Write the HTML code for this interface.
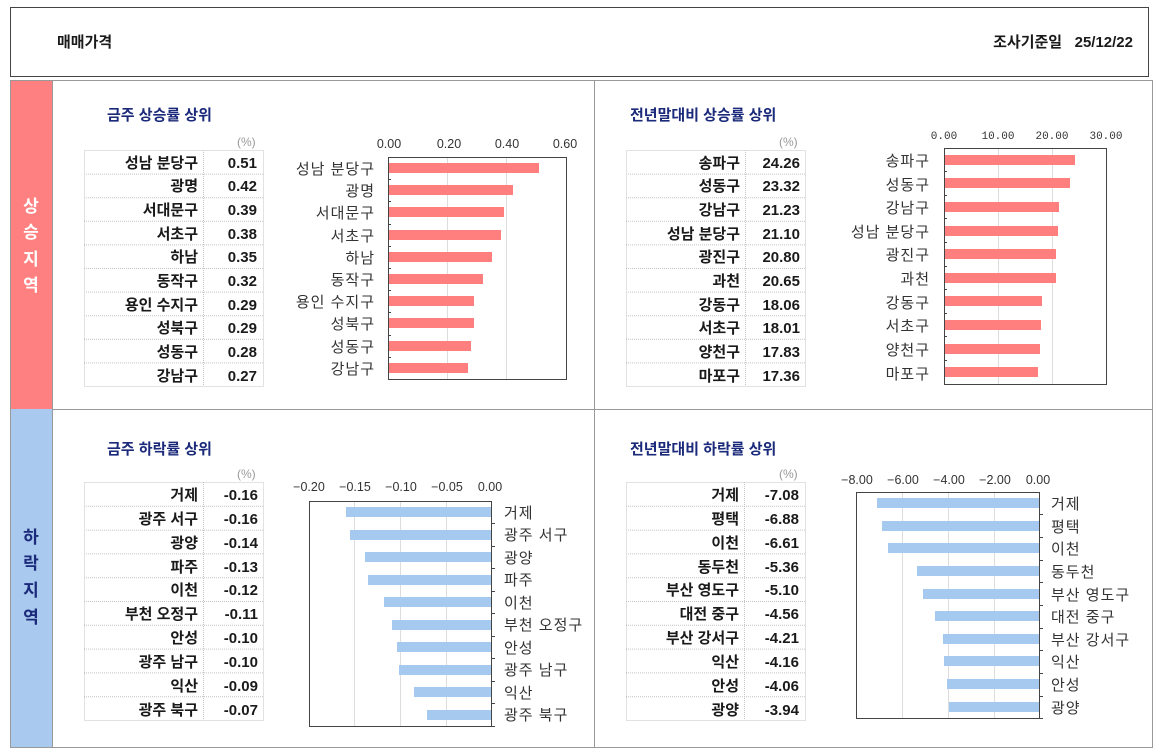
<!DOCTYPE html>
<html><head><meta charset="utf-8"><style>
html,body{margin:0;padding:0;background:#fff;}
svg{display:block;font-family:"Liberation Sans","Noto Sans CJK KR",sans-serif;}
.t{font-size:15px;font-weight:bold;fill:#1a1a1a;}
.h{font-size:15px;font-weight:bold;fill:#1b2a7a;}
.c{font-size:15px;fill:#333;letter-spacing:1px;}
.k{font-size:12.5px;fill:#333;}
.p{font-size:12px;fill:#999;}
.tb{stroke:#c4c4c4;stroke-dasharray:1 1;fill:none;stroke-width:1;}
</style></head><body>
<svg width="1165" height="756" viewBox="0 0 1165 756">
<rect x="10.5" y="7.5" width="1138" height="69" fill="#fff" stroke="#444"/>
<text x="57" y="47" class="t">매매가격</text>
<text x="1133" y="47" class="t" text-anchor="end">조사기준일 &#160;&#160;25/12/22</text>

<rect x="10" y="80" width="42" height="329" fill="#ff8080"/>
<rect x="10" y="409" width="42" height="339" fill="#a9c9ee"/>
<g font-size="17" font-weight="bold" text-anchor="middle">
<text x="31" y="212" fill="#fff">상</text><text x="31" y="238" fill="#fff">승</text><text x="31" y="265" fill="#fff">지</text><text x="31" y="291" fill="#fff">역</text>
<text x="31" y="543" fill="#1b2a7a">하</text><text x="31" y="569" fill="#1b2a7a">락</text><text x="31" y="596" fill="#1b2a7a">지</text><text x="31" y="623" fill="#1b2a7a">역</text>
</g>
<rect x="10.5" y="80.5" width="1142" height="667" fill="none" stroke="#999"/>
<line x1="52.5" y1="80" x2="52.5" y2="748" stroke="#999"/>
<line x1="594.5" y1="80" x2="594.5" y2="748" stroke="#999"/>
<line x1="52" y1="409.5" x2="1152" y2="409.5" stroke="#999"/>

<!-- Panel 1 -->
<text x="107" y="120" class="h">금주 상승률 상위</text>
<text x="237" y="146" class="p">(%)</text>
<g>
<rect x="84.5" y="150.5" width="179" height="236" class="tb"/>
<line x1="203.5" y1="150" x2="203.5" y2="386" class="tb"/>
<path class="tb" d="M84 174.1H263M84 197.7H263M84 221.3H263M84 244.9H263M84 268.5H263M84 292.1H263M84 315.7H263M84 339.3H263M84 362.9H263"/>
<g class="t" text-anchor="end">
<text x="198" y="168">성남 분당구</text><text x="198" y="191">광명</text><text x="198" y="215">서대문구</text><text x="198" y="239">서초구</text><text x="198" y="262">하남</text><text x="198" y="286">동작구</text><text x="198" y="310">용인 수지구</text><text x="198" y="333">성북구</text><text x="198" y="357">성동구</text><text x="198" y="381">강남구</text>
<text x="257" y="168">0.51</text><text x="257" y="191">0.42</text><text x="257" y="215">0.39</text><text x="257" y="239">0.38</text><text x="257" y="262">0.35</text><text x="257" y="286">0.32</text><text x="257" y="310">0.29</text><text x="257" y="333">0.29</text><text x="257" y="357">0.28</text><text x="257" y="381">0.27</text>
</g>
</g>
<g>
<line x1="447.5" y1="157" x2="447.5" y2="379" stroke="#ddd"/><line x1="506.5" y1="157" x2="506.5" y2="379" stroke="#ddd"/>
<g fill="#ff7f7f">
<rect x="388" y="163" width="151" height="10"/><rect x="388" y="185" width="125" height="10"/><rect x="388" y="207" width="116" height="10"/><rect x="388" y="230" width="113" height="10"/><rect x="388" y="252" width="104" height="10"/><rect x="388" y="274" width="95" height="10"/><rect x="388" y="296" width="86" height="10"/><rect x="388" y="318" width="86" height="10"/><rect x="388" y="341" width="83" height="10"/><rect x="388" y="363" width="80" height="10"/>
</g>
<rect x="388.5" y="157.5" width="178" height="222" fill="none" stroke="#444"/>
<path stroke="#444" d="M388 179.5h3M388 201.5h3M388 224.5h3M388 246.5h3M388 268.5h3M388 290.5h3M388 312.5h3M388 335.5h3M388 357.5h3"/>
<g class="k" text-anchor="middle"><text x="389" y="148">0.00</text><text x="449" y="148">0.20</text><text x="507" y="148">0.40</text><text x="565" y="148">0.60</text></g>
<g class="c" text-anchor="end">
<text x="375" y="174">성남 분당구</text><text x="375" y="196">광명</text><text x="375" y="218">서대문구</text><text x="375" y="241">서초구</text><text x="375" y="263">하남</text><text x="375" y="285">동작구</text><text x="375" y="307">용인 수지구</text><text x="375" y="329">성북구</text><text x="375" y="352">성동구</text><text x="375" y="374">강남구</text>
</g>
</g>

<!-- Panel 2 -->
<text x="630" y="120" class="h">전년말대비 상승률 상위</text>
<text x="779" y="146" class="p">(%)</text>
<g>
<rect x="626.5" y="150.5" width="179" height="236" class="tb"/>
<line x1="745.5" y1="150" x2="745.5" y2="386" class="tb"/>
<path class="tb" d="M626 174.1H805M626 197.7H805M626 221.3H805M626 244.9H805M626 268.5H805M626 292.1H805M626 315.7H805M626 339.3H805M626 362.9H805"/>
<g class="t" text-anchor="end">
<text x="740" y="168">송파구</text><text x="740" y="191">성동구</text><text x="740" y="215">강남구</text><text x="740" y="239">성남 분당구</text><text x="740" y="262">광진구</text><text x="740" y="286">과천</text><text x="740" y="310">강동구</text><text x="740" y="333">서초구</text><text x="740" y="357">양천구</text><text x="740" y="381">마포구</text>
<text x="800" y="168">24.26</text><text x="800" y="191">23.32</text><text x="800" y="215">21.23</text><text x="800" y="239">21.10</text><text x="800" y="262">20.80</text><text x="800" y="286">20.65</text><text x="800" y="310">18.06</text><text x="800" y="333">18.01</text><text x="800" y="357">17.83</text><text x="800" y="381">17.36</text>
</g>
</g>
<g>
<line x1="998.5" y1="148" x2="998.5" y2="384" stroke="#ddd"/><line x1="1052.5" y1="148" x2="1052.5" y2="384" stroke="#ddd"/>
<g fill="#ff7f7f">
<rect x="944" y="155" width="131" height="10"/><rect x="944" y="178" width="126" height="10"/><rect x="944" y="202" width="115" height="10"/><rect x="944" y="226" width="114" height="10"/><rect x="944" y="249" width="112" height="10"/><rect x="944" y="273" width="112" height="10"/><rect x="944" y="296" width="98" height="10"/><rect x="944" y="320" width="97" height="10"/><rect x="944" y="344" width="96" height="10"/><rect x="944" y="367" width="94" height="10"/>
</g>
<rect x="944.5" y="148.5" width="162" height="236" fill="none" stroke="#444"/>
<path stroke="#444" d="M944 171.5h3M944 195.5h3M944 218.5h3M944 242.5h3M944 266.5h3M944 289.5h3M944 313.5h3M944 336.5h3M944 360.5h3"/>
<g font-size="11" fill="#333" font-family="Liberation Mono,monospace" text-anchor="middle"><text x="944" y="139">0.00</text><text x="998" y="139">10.00</text><text x="1052" y="139">20.00</text><text x="1106" y="139">30.00</text></g>
<g class="c" text-anchor="end">
<text x="930" y="166">송파구</text><text x="930" y="190">성동구</text><text x="930" y="213">강남구</text><text x="930" y="237">성남 분당구</text><text x="930" y="260">광진구</text><text x="930" y="284">과천</text><text x="930" y="308">강동구</text><text x="930" y="331">서초구</text><text x="930" y="355">양천구</text><text x="930" y="379">마포구</text>
</g>
</g>

<!-- Panel 3 -->
<text x="107" y="454" class="h">금주 하락률 상위</text>
<text x="237" y="478" class="p">(%)</text>
<g>
<rect x="84.5" y="482.5" width="179" height="238" class="tb"/>
<line x1="203.5" y1="482" x2="203.5" y2="720" class="tb"/>
<path class="tb" d="M84 506.3H263M84 530.1H263M84 553.9H263M84 577.7H263M84 601.5H263M84 625.3H263M84 649.1H263M84 672.9H263M84 696.7H263"/>
<g class="t" text-anchor="end">
<text x="198" y="500">거제</text><text x="198" y="524">광주 서구</text><text x="198" y="548">광양</text><text x="198" y="572">파주</text><text x="198" y="595">이천</text><text x="198" y="619">부천 오정구</text><text x="198" y="643">안성</text><text x="198" y="667">광주 남구</text><text x="198" y="691">익산</text><text x="198" y="715">광주 북구</text>
<text x="258" y="500">-0.16</text><text x="258" y="524">-0.16</text><text x="258" y="548">-0.14</text><text x="258" y="572">-0.13</text><text x="258" y="595">-0.12</text><text x="258" y="619">-0.11</text><text x="258" y="643">-0.10</text><text x="258" y="667">-0.10</text><text x="258" y="691">-0.09</text><text x="258" y="715">-0.07</text>
</g>
</g>
<g>
<line x1="354.5" y1="501" x2="354.5" y2="726" stroke="#ddd"/><line x1="400.5" y1="501" x2="400.5" y2="726" stroke="#ddd"/><line x1="446.5" y1="501" x2="446.5" y2="726" stroke="#ddd"/>
<g fill="#a6c9f0">
<rect x="346" y="507" width="146" height="10"/><rect x="350" y="530" width="142" height="10"/><rect x="365" y="552" width="127" height="10"/><rect x="368" y="575" width="124" height="10"/><rect x="384" y="597" width="108" height="10"/><rect x="392" y="620" width="100" height="10"/><rect x="397" y="642" width="95" height="10"/><rect x="399" y="665" width="93" height="10"/><rect x="414" y="687" width="78" height="10"/><rect x="427" y="710" width="65" height="10"/>
</g>
<rect x="309.5" y="501.5" width="182" height="225" fill="none" stroke="#444"/>
<path stroke="#444" d="M491 523.5h4M491 546.5h4M491 568.5h4M491 591.5h4M491 613.5h4M491 636.5h4M491 658.5h4M491 681.5h4M491 703.5h4M491 726.5h4"/>
<g class="k" text-anchor="middle"><text x="309" y="491">−0.20</text><text x="355" y="491">−0.15</text><text x="401" y="491">−0.10</text><text x="447" y="491">−0.05</text><text x="490" y="491">0.00</text></g>
<g class="c">
<text x="504" y="518">거제</text><text x="504" y="540">광주 서구</text><text x="504" y="563">광양</text><text x="504" y="585">파주</text><text x="504" y="608">이천</text><text x="504" y="630">부천 오정구</text><text x="504" y="653">안성</text><text x="504" y="675">광주 남구</text><text x="504" y="698">익산</text><text x="504" y="720">광주 북구</text>
</g>
</g>

<!-- Panel 4 -->
<text x="630" y="454" class="h">전년말대비 하락률 상위</text>
<text x="779" y="478" class="p">(%)</text>
<g>
<rect x="626.5" y="482.5" width="179" height="238" class="tb"/>
<line x1="744.5" y1="482" x2="744.5" y2="720" class="tb"/>
<path class="tb" d="M626 506.3H805M626 530.1H805M626 553.9H805M626 577.7H805M626 601.5H805M626 625.3H805M626 649.1H805M626 672.9H805M626 696.7H805"/>
<g class="t" text-anchor="end">
<text x="739" y="500">거제</text><text x="739" y="524">평택</text><text x="739" y="548">이천</text><text x="739" y="572">동두천</text><text x="739" y="595">부산 영도구</text><text x="739" y="619">대전 중구</text><text x="739" y="643">부산 강서구</text><text x="739" y="667">익산</text><text x="739" y="691">안성</text><text x="739" y="715">광양</text>
<text x="799" y="500">-7.08</text><text x="799" y="524">-6.88</text><text x="799" y="548">-6.61</text><text x="799" y="572">-5.36</text><text x="799" y="595">-5.10</text><text x="799" y="619">-4.56</text><text x="799" y="643">-4.21</text><text x="799" y="667">-4.16</text><text x="799" y="691">-4.06</text><text x="799" y="715">-3.94</text>
</g>
</g>
<g>
<line x1="902.5" y1="492" x2="902.5" y2="718" stroke="#ddd"/><line x1="948.5" y1="492" x2="948.5" y2="718" stroke="#ddd"/><line x1="994.5" y1="492" x2="994.5" y2="718" stroke="#ddd"/>
<g fill="#a6c9f0">
<rect x="877" y="498" width="163" height="10"/><rect x="882" y="521" width="158" height="10"/><rect x="888" y="543" width="152" height="10"/><rect x="917" y="566" width="123" height="10"/><rect x="923" y="589" width="117" height="10"/><rect x="935" y="611" width="105" height="10"/><rect x="943" y="634" width="97" height="10"/><rect x="944" y="656" width="96" height="10"/><rect x="947" y="679" width="93" height="10"/><rect x="949" y="702" width="91" height="10"/>
</g>
<rect x="856.5" y="492.5" width="183" height="226" fill="none" stroke="#444"/>
<path stroke="#444" d="M1039 514.5h4M1039 537.5h4M1039 560.5h4M1039 582.5h4M1039 605.5h4M1039 628.5h4M1039 650.5h4M1039 673.5h4M1039 696.5h4M1039 718.5h4"/>
<g class="k" text-anchor="middle"><text x="857" y="484">−8.00</text><text x="903" y="484">−6.00</text><text x="949" y="484">−4.00</text><text x="995" y="484">−2.00</text><text x="1038" y="484">0.00</text></g>
<g class="c">
<text x="1051" y="509">거제</text><text x="1051" y="532">평택</text><text x="1051" y="554">이천</text><text x="1051" y="577">동두천</text><text x="1051" y="600">부산 영도구</text><text x="1051" y="622">대전 중구</text><text x="1051" y="645">부산 강서구</text><text x="1051" y="667">익산</text><text x="1051" y="690">안성</text><text x="1051" y="713">광양</text>
</g>
</g>
</svg>
</body></html>
